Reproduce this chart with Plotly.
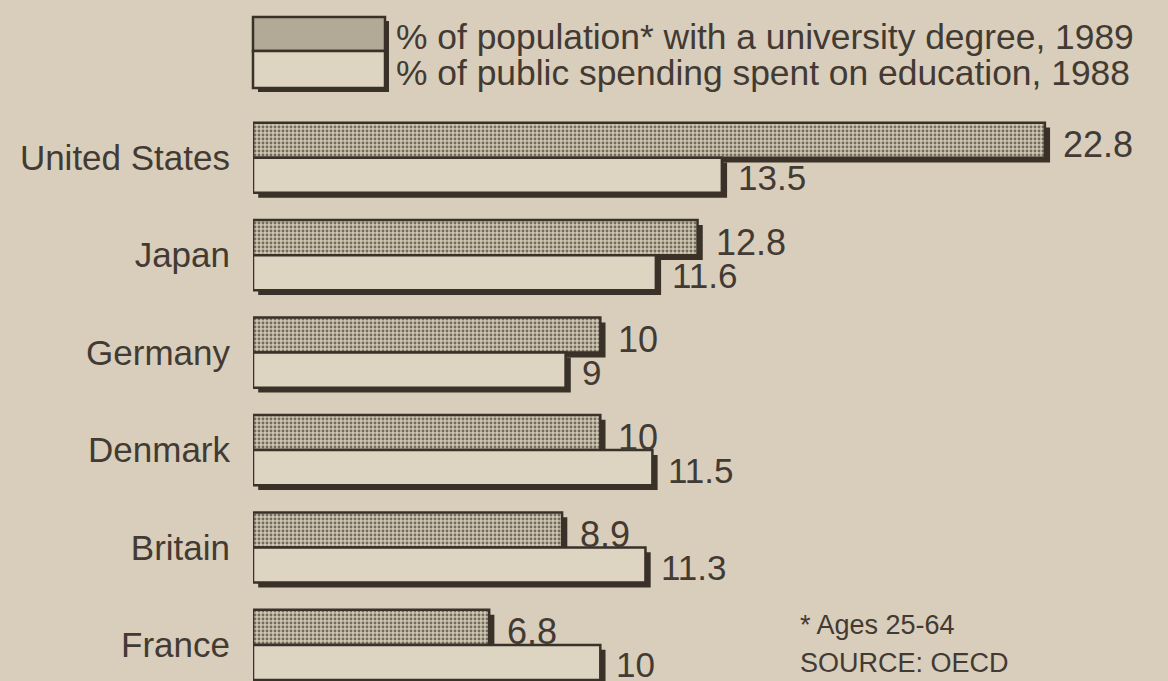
import plotly.graph_objects as go

# ---------------- data ----------------
countries = ["United States", "Japan", "Germany", "Denmark", "Britain", "France"]
degree_1989 = [22.8, 12.8, 10, 10, 8.9, 6.8]
spending_1988 = [13.5, 11.6, 9, 11.5, 11.3, 10]
degree_labels = ["22.8", "12.8", "10", "10", "8.9", "6.8"]
spending_labels = ["13.5", "11.6", "9", "11.5", "11.3", "10"]
legend_labels = ["% of population* with a university degree, 1989",
                 "% of public spending spent on education, 1988"]
notes = ["* Ages 25-64", "SOURCE: OECD"]

# ---------------- style ----------------
BG = "#d8cebb"
LIGHT = "#ddd5c2"
INK = "#3a3129"
TXT = "#423a33"
STIPPLE_AVG = "#b2aa97"
FONT = "Liberation Sans"

W, H = 1168, 681
ML, MR, MT, MB = 253, 12, 109, 0
PW, PH = W - ML - MR, H - MT - MB


def px(x):
    return (x - ML) / PW


def py(y):
    return 1 - (y - MT) / PH


BW = 0.36      # bar thickness (category units)
SX = 0.15      # shadow shift in x (value units)
SY = 0.05      # shadow shift in y (category units)

fig = go.Figure()

# shadows
for vals, off in [(degree_1989, -BW), (spending_1988, 0)]:
    fig.add_trace(go.Bar(
        y=countries, x=vals, base=[SX] * len(vals), orientation="h",
        offset=off + SY, width=BW,
        marker=dict(color=INK, line=dict(width=0)),
        hoverinfo="skip", showlegend=False))

fig.add_trace(go.Bar(
    y=countries, x=degree_1989, orientation="h", offset=-BW, width=BW,
    name=legend_labels[0],
    marker=dict(color=LIGHT,
                pattern=dict(shape=".", bgcolor="#d0c7b2", fgcolor="#746c5f",
                             size=4, solidity=0.42, fillmode="replace"),
                line=dict(color=INK, width=2.5)),
    showlegend=False))

fig.add_trace(go.Bar(
    y=countries, x=spending_1988, orientation="h", offset=0, width=BW,
    name=legend_labels[1],
    marker=dict(color=LIGHT, line=dict(color=INK, width=2.5)),
    showlegend=False))

annotations = []
for c, v, t in zip(countries, degree_1989, degree_labels):
    annotations.append(dict(x=v, y=c, text=t, showarrow=False, xanchor="left",
                            yanchor="middle", xshift=16, yshift=13,
                            font=dict(family=FONT, size=36, color=TXT)))
for c, v, t in zip(countries, spending_1988, spending_labels):
    annotations.append(dict(x=v, y=c, text=t, showarrow=False, xanchor="left",
                            yanchor="middle", xshift=14, yshift=-20,
                            font=dict(family=FONT, size=35, color=TXT)))

# legend text
annotations.append(dict(xref="paper", yref="paper", x=px(394), y=py(37),
                        text=legend_labels[0], showarrow=False, xanchor="left",
                        yanchor="middle", font=dict(family=FONT, size=35.4, color=TXT)))
annotations.append(dict(xref="paper", yref="paper", x=px(394), y=py(73),
                        text=legend_labels[1], showarrow=False, xanchor="left",
                        yanchor="middle", font=dict(family=FONT, size=35.4, color=TXT)))
# notes
annotations.append(dict(xref="paper", yref="paper", x=px(798), y=py(625),
                        text=notes[0], showarrow=False, xanchor="left",
                        yanchor="middle", font=dict(family=FONT, size=27, color=TXT)))
annotations.append(dict(xref="paper", yref="paper", x=px(798), y=py(663),
                        text=notes[1], showarrow=False, xanchor="left",
                        yanchor="middle", font=dict(family=FONT, size=27, color=TXT)))

shapes = [
    dict(type="rect", xref="paper", yref="paper", x0=px(258), x1=px(389),
         y0=py(92), y1=py(21), fillcolor=INK, line=dict(width=0)),
    dict(type="rect", xref="paper", yref="paper", x0=px(253), x1=px(385),
         y0=py(51), y1=py(17), fillcolor=STIPPLE_AVG, line=dict(color=INK, width=2.5)),
    dict(type="rect", xref="paper", yref="paper", x0=px(253), x1=px(385),
         y0=py(88), y1=py(51), fillcolor=LIGHT, line=dict(color=INK, width=2.5)),
]

fig.update_layout(
    width=W, height=H,
    margin=dict(l=ML, r=MR, t=MT, b=MB, pad=0),
    paper_bgcolor=BG, plot_bgcolor=BG,
    barmode="overlay",
    annotations=annotations, shapes=shapes,
    xaxis=dict(range=[0, 26], visible=False, fixedrange=True),
    yaxis=dict(categoryorder="array", categoryarray=countries,
               range=[5.37, -0.5], showgrid=False, zeroline=False,
               showline=False, ticks="", ticklabelstandoff=22, fixedrange=True,
               tickfont=dict(family=FONT, size=35, color=TXT)),
    font=dict(family=FONT, color=TXT),
)

fig.write_html("out.html", config={"displayModeBar": False},
               post_script="document.body.style.margin='0';document.body.style.background='%s';" % BG)
